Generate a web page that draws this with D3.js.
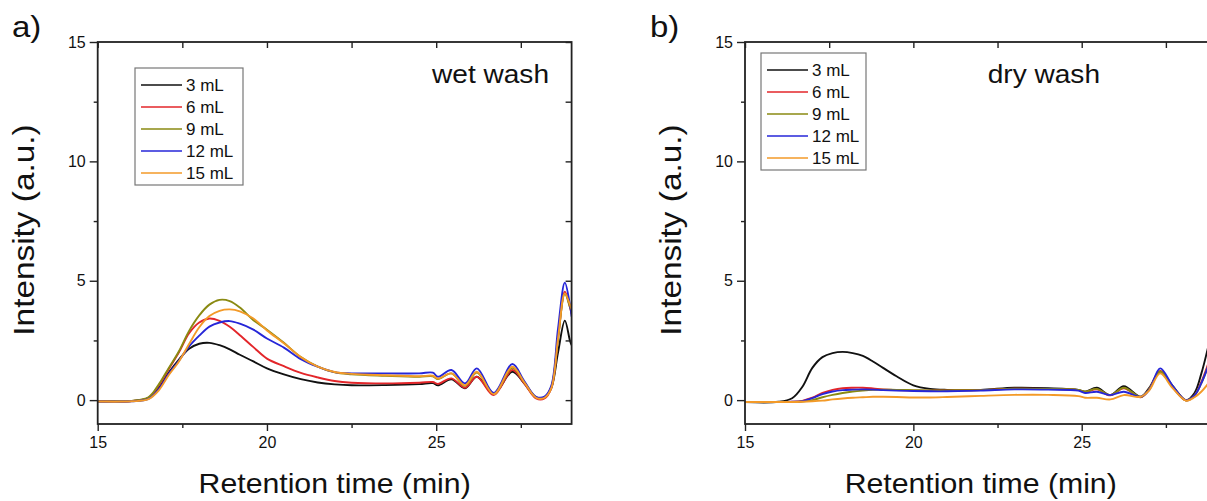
<!DOCTYPE html>
<html lang="en">
<head>
  <meta charset="UTF-8">
  <title>Retention time - wet wash / dry wash</title>
  <script src='https://d3js.org/d3.v7.min.js'></script>
  <style>
    body { margin: 0; background: #fff; }
    text { font-family: 'Liberation Sans', Arial, sans-serif; fill: #111; }
  </style>
</head>
<body>
</body>
<script>
  const width = 1207, height = 501;

  // legend entries + colours (same for both panels)
  const volumes = ['3 mL', '6 mL', '9 mL', '12 mL', '15 mL'];
  const colors = ['#111111', '#e3262a', '#8a8a12', '#2626d8', '#f39a28'];

  // axis ticks
  const xMajor = [15, 20, 25], xMinor = [17.5, 22.5, 27.5];
  const yMajor = [0, 5, 10, 15], yMinor = [2.5, 7.5, 12.5];

  // a) wet wash
  const wetTime = [15, 16, 16.5, 16.8, 17.1, 17.4, 17.7, 18.0, 18.3, 18.6, 18.9, 19.2, 19.6, 20.0, 20.5, 21.0, 21.5, 22.0, 22.5, 23.5, 24.5, 24.9, 25.05, 25.45, 25.85, 26.2, 26.7, 27.25, 27.6, 27.95, 28.2, 28.4, 28.6, 28.8, 28.95, 29];
  const wet3mL  = [-0.05, -0.04, 0.08, 0.5, 1.15, 1.7, 2.15, 2.36, 2.40, 2.3, 2.13, 1.9, 1.62, 1.33, 1.08, 0.88, 0.74, 0.66, 0.62, 0.63, 0.67, 0.71, 0.62, 0.87, 0.5, 0.98, 0.28, 1.19, 0.7, 0.12, 0.12, 0.5, 2.0, 3.33, 2.5, 2.3];
  const wet6mL  = [-0.05, -0.04, 0.1, 0.6, 1.3, 2.0, 2.8, 3.25, 3.42, 3.32, 3.07, 2.72, 2.22, 1.74, 1.42, 1.14, 0.95, 0.8, 0.73, 0.7, 0.73, 0.76, 0.68, 0.91, 0.52, 0.98, 0.21, 1.26, 0.7, 0.07, 0.07, 0.5, 2.6, 4.54, 3.9, 3.6];
  const wet9mL  = [-0.05, -0.03, 0.12, 0.65, 1.35, 2.05, 2.9, 3.55, 4.0, 4.2, 4.15, 3.88, 3.35, 2.95, 2.4, 1.8, 1.4, 1.16, 1.08, 1.02, 0.98, 1.0, 0.88, 1.12, 0.6, 1.15, 0.28, 1.35, 0.75, 0.12, 0.12, 0.55, 2.6, 4.45, 3.9, 3.7];
  const wet12mL = [-0.06, -0.05, 0.05, 0.45, 1.1, 1.65, 2.25, 2.7, 3.08, 3.25, 3.31, 3.2, 2.95, 2.58, 2.2, 1.72, 1.4, 1.17, 1.12, 1.12, 1.12, 1.15, 0.98, 1.26, 0.7, 1.33, 0.3, 1.51, 0.8, 0.14, 0.15, 0.6, 3.0, 4.92, 4.0, 3.5];
  const wet15mL = [-0.06, -0.05, 0.04, 0.4, 1.05, 1.62, 2.35, 3.05, 3.52, 3.74, 3.8, 3.72, 3.42, 2.92, 2.38, 1.8, 1.4, 1.18, 1.1, 1.04, 1.0, 1.02, 0.9, 1.12, 0.62, 1.19, 0.25, 1.4, 0.75, 0.1, 0.1, 0.5, 2.6, 4.47, 4.0, 3.8];

  // b) dry wash
  const dryTime = [15, 16, 16.4, 16.7, 17.0, 17.3, 17.6, 17.9, 18.2, 18.5, 18.8, 19.1, 19.5, 20.0, 20.5, 21.0, 22.0, 23.0, 24.0, 24.9, 25.1, 25.45, 25.85, 26.25, 26.75, 27.0, 27.33, 27.7, 28.1, 28.35, 28.55, 28.75];
  const dry3mL  = [-0.08, -0.07, 0.08, 0.55, 1.35, 1.8, 1.97, 2.02, 1.97, 1.85, 1.62, 1.35, 1.0, 0.62, 0.47, 0.43, 0.43, 0.52, 0.5, 0.43, 0.35, 0.52, 0.21, 0.58, 0.14, 0.5, 1.2, 0.6, 0.0, 0.3, 1.1, 2.2];
  const dry6mL  = [-0.08, -0.08, -0.07, -0.03, 0.1, 0.3, 0.43, 0.5, 0.52, 0.52, 0.49, 0.45, 0.42, 0.4, 0.4, 0.41, 0.42, 0.48, 0.47, 0.42, 0.34, 0.45, 0.2, 0.5, 0.12, 0.45, 1.22, 0.55, -0.02, 0.2, 0.75, 1.5];
  const dry9mL  = [-0.08, -0.08, -0.08, -0.06, 0.0, 0.12, 0.22, 0.3, 0.36, 0.4, 0.43, 0.44, 0.43, 0.42, 0.41, 0.41, 0.42, 0.48, 0.47, 0.43, 0.36, 0.47, 0.21, 0.52, 0.13, 0.45, 1.2, 0.55, -0.02, 0.2, 0.7, 1.4];
  const dry12mL = [-0.08, -0.08, -0.07, -0.04, 0.08, 0.25, 0.36, 0.42, 0.44, 0.45, 0.44, 0.42, 0.4, 0.38, 0.37, 0.37, 0.4, 0.45, 0.44, 0.4, 0.3, 0.35, 0.21, 0.35, 0.14, 0.42, 1.33, 0.6, 0.0, 0.2, 0.7, 1.4];
  const dry15mL = [-0.08, -0.08, -0.08, -0.07, -0.05, -0.02, 0.03, 0.07, 0.1, 0.12, 0.14, 0.14, 0.13, 0.11, 0.11, 0.13, 0.18, 0.22, 0.22, 0.17, 0.1, 0.1, 0.03, 0.21, 0.14, 0.4, 1.12, 0.5, -0.02, 0.12, 0.35, 0.68];

  const svg = d3.select('body').append('svg').attr('width', width).attr('height', height);

  // stretched text, the source picture is a bit wider than tall
  function label(g, x, y, txt, size, anchor, rotate, sx) {
    return g.append('text')
      .attr('transform', `translate(${x},${y}) rotate(${rotate || 0}) scale(${sx || 1},1)`)
      .attr('text-anchor', anchor)
      .style('font-size', size + 'px')
      .text(txt);
  }

  function panel(cfg) {
    const g = svg.append('g');
    const x = d3.scaleLinear().domain([15, 29]).range([cfg.left, cfg.right]);
    const y = d3.scaleLinear().domain([-1, 15]).range([424, 42]);
    const series = [cfg.s3, cfg.s6, cfg.s9, cfg.s12, cfg.s15];

    const clipId = 'clip-' + cfg.id;
    g.append('clipPath').attr('id', clipId).append('rect')
      .attr('x', x(15)).attr('y', y(15)).attr('width', x(29) - x(15)).attr('height', y(-1) - y(15));

    const line = d3.line()
      .x(d => x(d[0])).y(d => y(d[1]))
      .curve(d3.curveCatmullRom.alpha(0.5));

    g.append('g').attr('clip-path', `url(#${clipId})`)
      .selectAll('path')
      .data(series)
      .join('path')
      .attr('fill', 'none')
      .attr('stroke', (_, i) => colors[i])
      .attr('stroke-width', 1.9)
      .attr('d', s => line(cfg.time.map((t, i) => [t, s[i]])));

    // axes
    const noDomain = a => a.select('.domain').remove();
    const styleTicks = a => a.selectAll('line').attr('stroke', '#222').attr('stroke-width', 1.4);
    g.append('g').attr('transform', `translate(0,${y(-1)})`)
      .call(d3.axisBottom(x).tickValues(xMajor).tickSize(7).tickPadding(6).tickFormat(d3.format('d')))
      .call(noDomain).call(styleTicks)
      .selectAll('text').style('font-size', '16px').style('font-family', null);
    g.append('g').attr('transform', `translate(0,${y(-1)})`)
      .call(d3.axisBottom(x).tickValues(xMinor).tickSize(4).tickFormat(''))
      .call(noDomain).call(styleTicks);
    g.append('g').attr('transform', `translate(0,${y(15)})`)
      .call(d3.axisTop(x).tickValues(xMajor.concat(xMinor)).tickSize(-6).tickFormat(''))
      .call(noDomain).call(styleTicks);
    g.append('g').attr('transform', `translate(${x(15)},0)`)
      .call(d3.axisLeft(y).tickValues(yMajor).tickSize(8).tickPadding(4).tickFormat(d3.format('d')))
      .call(noDomain).call(styleTicks)
      .selectAll('text').style('font-size', '16px').style('font-family', null);
    g.append('g').attr('transform', `translate(${x(15)},0)`)
      .call(d3.axisLeft(y).tickValues(yMinor).tickSize(4).tickFormat(''))
      .call(noDomain).call(styleTicks);
    g.append('g').attr('transform', `translate(${x(29)},0)`)
      .call(d3.axisRight(y).tickValues(yMajor.concat(yMinor)).tickSize(-6).tickFormat(''))
      .call(noDomain).call(styleTicks);

    g.append('rect')
      .attr('x', x(15)).attr('y', y(15)).attr('width', x(29) - x(15)).attr('height', y(-1) - y(15))
      .attr('fill', 'none').attr('stroke', '#222').attr('stroke-width', 1.8);

    // titles
    label(g, (x(15) + x(29)) / 2, 493, 'Retention time (min)', 28, 'middle', 0, 1.08);
    label(g, x(15) - 64, 230, 'Intensity (a.u.)', 29, 'middle', -90, 1.15);
    label(g, cfg.letterX, 37, cfg.letter, 30, 'start', 0, 1.1);
    label(g, cfg.noteX, 83, cfg.note, 26, 'end', 0, 1.08);

    // legend
    const lg = g.append('g');
    const rowH = 22;
    lg.append('rect')
      .attr('x', cfg.legX).attr('y', cfg.legY)
      .attr('width', cfg.legW).attr('height', 117)
      .attr('fill', '#fff').attr('stroke', '#777').attr('stroke-width', 1.2);
    const rows = lg.selectAll('g.row').data(volumes).join('g').attr('class', 'row')
      .attr('transform', (_, i) => `translate(${cfg.legX + 6},${cfg.legY + 17 + i * rowH})`);
    rows.append('line').attr('x1', 0).attr('x2', 41).attr('stroke', (_, i) => colors[i]).attr('stroke-width', 1.6);
    rows.append('text').attr('x', 45).attr('dy', '0.35em').style('font-size', '17px').text(d => d);
  }

  panel({ id: 'a', left: 97.7, right: 571.6, time: wetTime,
    s3: wet3mL, s6: wet6mL, s9: wet9mL, s12: wet12mL, s15: wet15mL,
    letter: 'a)', letterX: 12, note: 'wet wash', noteX: 549,
    legX: 135, legY: 68, legW: 108 });

  panel({ id: 'b', left: 745, right: 1216.4, time: dryTime,
    s3: dry3mL, s6: dry6mL, s9: dry9mL, s12: dry12mL, s15: dry15mL,
    letter: 'b)', letterX: 650, note: 'dry wash', noteX: 1100,
    legX: 761, legY: 53, legW: 105 });

  console.log('ready..');
</script>
</html>
